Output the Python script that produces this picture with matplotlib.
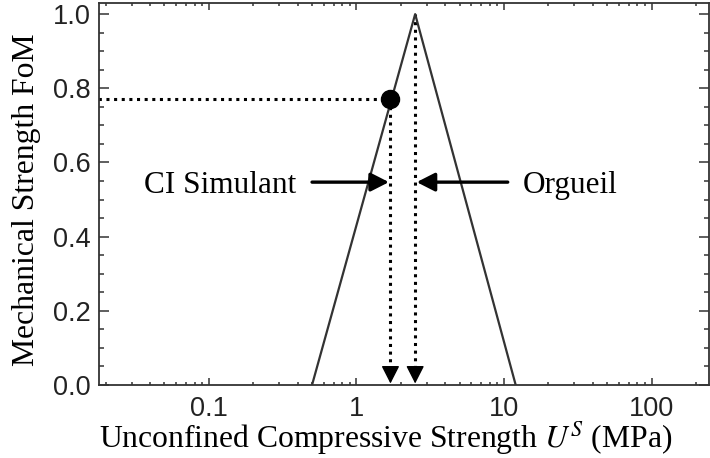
import matplotlib
matplotlib.use("Agg")
import matplotlib.pyplot as plt
from matplotlib.ticker import LogLocator, MultipleLocator, FixedLocator, FixedFormatter

# membership function (triangle) for mechanical strength
tri_ucs = [0.5, 2.5, 12.0]
tri_fom = [0.0, 1.0, 0.0]

# samples
sim_ucs = 1.7
sim_fom = 0.77
org_ucs = 2.5
org_fom = 1.0

x_ticks = [0.1, 1, 10, 100]
x_ticklabels = ["0.1", "1", "10", "100"]
y_ticks = [0.0, 0.2, 0.4, 0.6, 0.8, 1.0]
y_ticklabels = ["0.0", "0.2", "0.4", "0.6", "0.8", "1.0"]

plt.rcParams["mathtext.fontset"] = "stix"

W, H = 710, 458
fig = plt.figure(figsize=(7.1, 4.58), dpi=100)
ax = fig.add_axes([99 / W, 1 - 385 / H, 610 / W, 382 / H])

frame = "#333333"
ax.plot(tri_ucs, tri_fom, color=frame, lw=1.6, zorder=3)

dot = (0, (1, 1.5))
# horizontal guide to the simulant point
ax.plot([0.001, sim_ucs], [sim_fom, sim_fom], color="black", lw=2.2, ls=dot, zorder=2)
ax.plot([sim_ucs], [sim_fom], "o", color="black", ms=13, zorder=4)

# vertical dotted arrows down to the x axis
for xv, yv in [(sim_ucs, sim_fom), (org_ucs, org_fom)]:
    ax.plot([xv, xv], [yv, 0.045], color="black", lw=2.2, ls=dot, zorder=2)
    ax.annotate("", xy=(xv, 0.004), xytext=(xv, 0.045),
                arrowprops=dict(arrowstyle="-|>,head_length=0.55,head_width=0.28",
                                color="black", lw=1, mutation_scale=20,
                                shrinkA=0, shrinkB=0), zorder=5)

# label arrows
arrow_y = 0.547
arr = dict(arrowstyle="-|>,head_length=0.55,head_width=0.28", color="black",
           lw=2.4, mutation_scale=20, shrinkA=0, shrinkB=0)
ax.annotate("", xy=(1.66, arrow_y), xytext=(0.50, arrow_y), arrowprops=arr)
ax.annotate("", xy=(2.56, arrow_y), xytext=(10.6, arrow_y), arrowprops=arr)

serif = ["Liberation Serif", "DejaVu Serif"]
ax.text(0.39, 0.518, "CI Simulant", ha="right", va="baseline", fontsize=22.5, family=serif)
ax.text(13.3, 0.518, "Orgueil", ha="left", va="baseline", fontsize=22.5, family=serif)

ax.set_xscale("log")
ax.set_xlim(0.018, 245)
ax.set_ylim(0, 1.03)

ax.xaxis.set_major_locator(FixedLocator(x_ticks))
ax.xaxis.set_major_formatter(FixedFormatter(x_ticklabels))
ax.xaxis.set_minor_locator(LogLocator(base=10, subs=range(2, 10), numticks=20))
ax.xaxis.set_minor_formatter(plt.NullFormatter())
ax.yaxis.set_major_locator(FixedLocator(y_ticks))
ax.yaxis.set_major_formatter(FixedFormatter(y_ticklabels))
ax.yaxis.set_minor_locator(MultipleLocator(0.05))

for sp in ax.spines.values():
    sp.set_color(frame)
    sp.set_linewidth(1.3)

ax.tick_params(which="both", direction="in", top=True, right=True, color=frame, width=1.1)
ax.tick_params(axis="x", which="major", length=5, pad=8)
ax.tick_params(axis="x", which="minor", length=2.5)
ax.tick_params(axis="y", which="major", length=7, pad=6)
ax.tick_params(axis="y", which="minor", length=3.5)
for lab in ax.get_xticklabels() + ax.get_yticklabels():
    lab.set_family(["Liberation Sans", "DejaVu Sans"])
    lab.set_fontsize(19.5)
    lab.set_color("#222222")

# axis titles placed as in the reference
fig.text(386 / W, 1 - 448 / H, "Unconfined Compressive Strength $U^S$ (MPa)",
         ha="center", va="baseline", fontsize=22.8, family=serif)
fig.text(34 / W, 1 - 200 / H, "Mechanical Strength FoM", rotation=90,
         rotation_mode="anchor", ha="center", va="baseline", fontsize=22.8, family=serif)

fig.savefig("out.png", dpi=100)
